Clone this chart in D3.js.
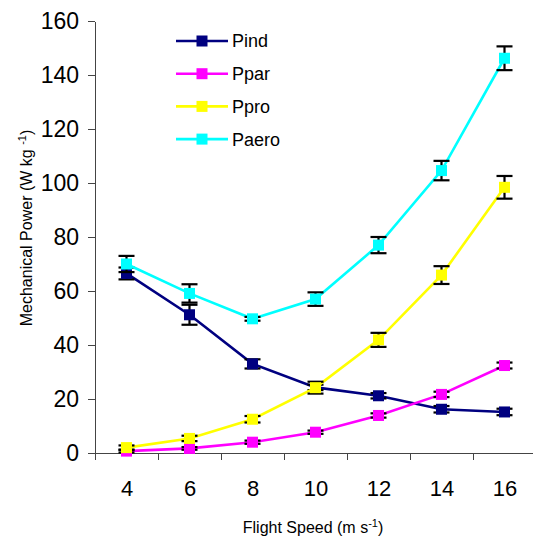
<!DOCTYPE html>
<html lang="en">
<head>
    <meta charset="UTF-8">
    <title>Mechanical Power vs Flight Speed</title>
    <style>
        body {
            margin: 0;
            background: #fff;
            font-family: Arial, 'Liberation Sans', sans-serif;
        }
        svg text {
            font-family: Arial, 'Liberation Sans', sans-serif;
            fill: #000;
        }
        .axis path,
        .axis line {
            stroke: #444;
            stroke-width: 1.2;
            shape-rendering: crispEdges;
        }
    </style>
</head>
<body>
    <div id="chart"></div>

    <script src="https://d3js.org/d3.v7.min.js"></script>
    <script>
        // data
        const speeds = [4, 6, 8, 10, 12, 14, 16];
        const yTicks = [0, 20, 40, 60, 80, 100, 120, 140, 160];

        const pind = [66.5, 51.2, 33.0, 24.3, 21.2, 16.2, 15.2];
        const pindErr = [2.2, 3.7, 1.7, 1.0, 1.0, 1.2, 1.2];

        const ppar = [0.7, 1.7, 4.0, 7.7, 13.9, 21.7, 32.4];
        const pparErr = [0.5, 0.5, 0.6, 0.6, 0.8, 1.0, 1.1];

        const ppro = [2.0, 5.4, 12.5, 24.2, 41.9, 65.9, 98.4];
        const pproErr = [0.8, 1.0, 1.2, 2.2, 2.6, 3.3, 4.2];

        const paero = [70.0, 59.1, 49.7, 57.0, 77.0, 104.6, 146.2];
        const paeroErr = [3.0, 3.4, 0.7, 2.5, 3.0, 3.6, 4.4];

        const seriesNames = ['Pind', 'Ppar', 'Ppro', 'Paero'];
        const seriesColors = ['#000080', '#ff00ff', '#ffff00', '#00ffff'];

        const series = [
            { name: seriesNames[0], color: seriesColors[0], values: pind, errs: pindErr },
            { name: seriesNames[1], color: seriesColors[1], values: ppar, errs: pparErr },
            { name: seriesNames[2], color: seriesColors[2], values: ppro, errs: pproErr },
            { name: seriesNames[3], color: seriesColors[3], values: paero, errs: paeroErr }
        ];

        const width = 533, height = 538;
        const plot = { left: 95, right: 536, top: 21, bottom: 453 };
        const markerSize = 11;
        const capWidth = 16;

        const svg = d3.select('#chart')
            .append('svg')
            .attr('width', width)
            .attr('height', height);

        // category-like x axis: each speed sits in the middle of its slot
        const x = d3.scaleLinear()
            .domain([3, 17])
            .range([plot.left, plot.right]);

        const y = d3.scaleLinear()
            .domain([0, 160])
            .range([plot.bottom, plot.top]);

        // y axis
        const yAxis = svg.append('g')
            .attr('class', 'axis')
            .attr('transform', `translate(${plot.left},0)`)
            .call(d3.axisLeft(y).tickValues(yTicks).tickSize(7).tickPadding(9).tickSizeOuter(0));
        yAxis.selectAll('text').style('font-size', '23px');

        // x axis line + slot boundary ticks
        const slotEdges = d3.range(3, 18, 2);
        svg.append('g')
            .attr('class', 'axis')
            .attr('transform', `translate(0,${plot.bottom})`)
            .call(d3.axisBottom(x).tickValues(slotEdges).tickSize(7).tickFormat('').tickSizeOuter(0));

        // x labels centred in slots
        const xLabels = svg.append('g')
            .attr('class', 'axis')
            .attr('transform', `translate(0,${plot.bottom})`)
            .call(d3.axisBottom(x).tickValues(speeds).tickSize(0).tickPadding(27).tickFormat(d3.format('d')));
        xLabels.select('.domain').remove();
        xLabels.selectAll('text').style('font-size', '22px');

        // series
        const line = d3.line()
            .x((d, i) => x(speeds[i]))
            .y(d => y(d));

        series.forEach(s => {
            const g = svg.append('g');

            g.append('path')
                .datum(s.values)
                .attr('fill', 'none')
                .attr('stroke', s.color)
                .attr('stroke-width', 2.6)
                .attr('d', line);

            const eb = g.selectAll('.err')
                .data(s.values)
                .enter()
                .append('g')
                .attr('stroke', '#000')
                .attr('stroke-width', 2.2);

            eb.append('line')
                .attr('x1', (d, i) => x(speeds[i]))
                .attr('x2', (d, i) => x(speeds[i]))
                .attr('y1', (d, i) => y(d + s.errs[i]))
                .attr('y2', (d, i) => y(d - s.errs[i]));
            eb.append('line')
                .attr('x1', (d, i) => x(speeds[i]) - capWidth / 2)
                .attr('x2', (d, i) => x(speeds[i]) + capWidth / 2)
                .attr('y1', (d, i) => y(d + s.errs[i]))
                .attr('y2', (d, i) => y(d + s.errs[i]));
            eb.append('line')
                .attr('x1', (d, i) => x(speeds[i]) - capWidth / 2)
                .attr('x2', (d, i) => x(speeds[i]) + capWidth / 2)
                .attr('y1', (d, i) => y(d - s.errs[i]))
                .attr('y2', (d, i) => y(d - s.errs[i]));

            g.selectAll('.marker')
                .data(s.values)
                .enter()
                .append('rect')
                .attr('x', (d, i) => x(speeds[i]) - markerSize / 2)
                .attr('y', d => y(d) - markerSize / 2)
                .attr('width', markerSize)
                .attr('height', markerSize)
                .attr('fill', s.color);
        });

        // legend
        const legend = svg.append('g')
            .selectAll('g')
            .data(series)
            .enter()
            .append('g')
            .attr('transform', (d, i) => `translate(176,${41 + i * 32.7})`);

        legend.append('line')
            .attr('x1', 0).attr('x2', 52)
            .attr('stroke', d => d.color)
            .attr('stroke-width', 2.6);
        legend.append('rect')
            .attr('x', 26 - markerSize / 2)
            .attr('y', -markerSize / 2)
            .attr('width', markerSize)
            .attr('height', markerSize)
            .attr('fill', d => d.color);
        legend.append('text')
            .attr('x', 56)
            .attr('dy', '0.36em')
            .style('font-size', '18px')
            .text(d => d.name);

        // axis titles
        const xTitle = svg.append('text')
            .attr('x', 313)
            .attr('y', 533)
            .attr('text-anchor', 'middle')
            .style('font-size', '16px');
        xTitle.append('tspan').text('Flight Speed (m s');
        xTitle.append('tspan').attr('dy', -6).style('font-size', '11px').text('-1');
        xTitle.append('tspan').attr('dy', 6).text(')');

        const yTitle = svg.append('text')
            .attr('transform', 'translate(32,228) rotate(-90)')
            .attr('text-anchor', 'middle')
            .style('font-size', '16px');
        yTitle.append('tspan').text('Mechanical Power (W kg ');
        yTitle.append('tspan').attr('dy', -6).style('font-size', '11px').text('-1');
        yTitle.append('tspan').attr('dy', 6).text(')');
    </script>
</body>
</html>
